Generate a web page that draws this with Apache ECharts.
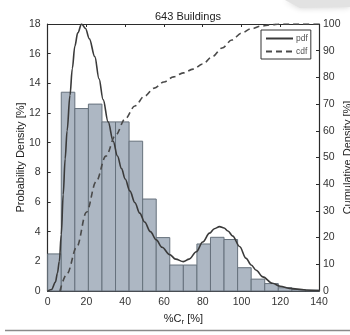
<!DOCTYPE html>
<html>
<head>
<meta charset="utf-8">
<script src="https://cdn.jsdelivr.net/npm/echarts@6/dist/echarts.min.js"></script>
<style>html,body{margin:0;padding:0;background:#fff;}#c{width:350px;height:335px;}</style>
</head>
<body>
<div id="c"></div>
<script>
// Histogram bins (bin width 7 %)
const binStarts = [0, 7, 14, 21, 28, 35, 42, 49, 56, 63, 70, 77, 84, 91, 98, 105, 112, 119, 126, 133];
const binWidth = 7;
const binHeights = [2.5, 13.4, 12.3, 12.6, 11.4, 11.4, 10.1, 6.2, 3.6, 1.75, 1.75, 3.17, 3.62, 3.47, 1.57, 0.8, 0.5, 0.22, 0.1, 0.05];

// Fitted pdf curve (x, density %)
const pdfX = [0, 2, 4, 5, 6, 7, 8, 9, 10, 11.5, 12.7, 14, 15.5, 17.5, 19.5, 21.5, 24.3, 26.5, 28.6, 31.2, 33.8, 36, 38.1, 40, 42.4, 45, 47.5, 50, 53, 56, 59, 63, 66, 70, 73, 76.7, 80, 83.5, 86, 88.7, 91, 93, 95.5, 99, 102.4, 105, 107.6, 111, 116, 120, 124.7, 133, 140];
const pdfY = [0, 0.1, 0.6, 1.2, 2.0, 3.8, 6.5, 8.9, 10.8, 13.2, 15.0, 16.5, 17.4, 18.0, 17.7, 17.0, 15.8, 14.3, 12.9, 11.4, 10.1, 9.1, 8.25, 7.55, 6.75, 5.95, 5.25, 4.65, 4.0, 3.45, 2.95, 2.45, 2.15, 1.98, 2.15, 2.65, 3.3, 3.9, 4.2, 4.34, 4.25, 4.05, 3.7, 3.0, 2.2, 1.75, 1.4, 0.95, 0.52, 0.32, 0.18, 0.07, 0.03];

// Cumulative curve (x, cumulative %)
const cdfX = [6.3, 10, 15, 20, 25, 30, 35, 40, 45, 50, 55, 60, 65, 70, 75, 80, 85, 90, 95, 100, 105, 110, 115, 120, 130, 140];
const cdfY = [0, 6.5, 16.5, 29.5, 41, 50.5, 58.3, 64.5, 69.3, 73, 76, 78.3, 80.2, 81.7, 83.1, 85, 87.8, 91, 94, 96.6, 98.2, 99.2, 99.7, 100, 100, 100];

const xTicks = {min: 0, max: 140, interval: 20};
const yLeft = {min: 0, max: 18, interval: 2};
const yRight = {min: 0, max: 100, interval: 10};

const chart = echarts.init(document.getElementById('c'), null, {renderer: 'canvas'});
const axisCol = '#2b2b2b';
const labelCol = '#333';
const font = 'Liberation Sans, Arial, sans-serif';

const barData = binStarts.map((s, i) => [s, s + binWidth, binHeights[i]]);
const pdfData = pdfX.map((x, i) => [x, pdfY[i]]);
const cdfData = cdfX.map((x, i) => [x, cdfY[i]]);

chart.setOption({
  animation: false,
  backgroundColor: '#fff',
  title: {
    text: '643 Buildings',
    left: 183, top: 6, textAlign: 'center',
    textStyle: {fontSize: 11, fontWeight: 'normal', color: '#222', fontFamily: font}
  },
  legend: {
    left: 261, top: 30,
    orient: 'vertical',
    data: ['pdf', 'cdf'],
    itemWidth: 27, itemHeight: 8, itemGap: 4,
    padding: [4, 3, 3, 4],
    borderColor: '#333', borderWidth: 1,
    backgroundColor: '#fff',
    itemStyle: {opacity: 0},
    textStyle: {fontSize: 8.5, color: '#555', fontFamily: font, padding: [0, 0, 0, -2]}
  },
  grid: {left: 47.7, right: 31, top: 24, bottom: 44, containLabel: false, outerBoundsMode: 'none'},
  xAxis: [{
    type: 'value', position: 'bottom', min: xTicks.min, max: xTicks.max, interval: xTicks.interval,
    axisLine: {show: true, onZero: false, lineStyle: {color: axisCol, width: 1.2}},
    axisTick: {show: true, inside: true, length: 3, lineStyle: {color: axisCol}},
    axisLabel: {fontSize: 10.5, color: labelCol, margin: 6, fontFamily: font},
    splitLine: {show: false},
    name: '%C{s|r} [%]', nameLocation: 'middle', nameGap: 21, nameMoveOverlap: false,
    nameTextStyle: {fontSize: 11, color: '#222', fontFamily: font,
      rich: {s: {fontSize: 8, verticalAlign: 'bottom', padding: [6, 0, 0, 0], color: '#222', fontFamily: font}}}
  }, {
    type: 'value', position: 'top', min: xTicks.min, max: xTicks.max, interval: xTicks.interval,
    axisLine: {show: true, onZero: false, lineStyle: {color: axisCol, width: 1.2}},
    axisTick: {show: true, inside: true, length: 3, lineStyle: {color: axisCol}},
    axisLabel: {show: false}, splitLine: {show: false}
  }],
  yAxis: [{
    type: 'value', position: 'left', min: yLeft.min, max: yLeft.max, interval: yLeft.interval,
    axisLine: {show: true, onZero: false, lineStyle: {color: axisCol, width: 1.2}},
    axisTick: {show: true, inside: true, length: 3, lineStyle: {color: axisCol}},
    axisLabel: {fontSize: 10.5, color: labelCol, margin: 7, fontFamily: font},
    splitLine: {show: false},
    name: 'Probability Density [%]', nameLocation: 'middle', nameGap: 21, nameRotate: 90, nameMoveOverlap: false,
    nameTextStyle: {fontSize: 11, color: '#222', fontFamily: font}
  }, {
    type: 'value', position: 'right', min: yRight.min, max: yRight.max, interval: yRight.interval,
    axisLine: {show: true, onZero: false, lineStyle: {color: axisCol, width: 1.2}},
    axisTick: {show: true, inside: true, length: 3, lineStyle: {color: axisCol}},
    axisLabel: {fontSize: 10.5, color: labelCol, margin: 4, fontFamily: font},
    splitLine: {show: false},
    name: 'Cumulative Density [%]', nameLocation: 'middle', nameGap: 23, nameRotate: 90, nameMoveOverlap: false,
    nameTextStyle: {fontSize: 11, color: '#222', fontFamily: font}
  }],
  series: [{
    type: 'custom',
    xAxisIndex: 0, yAxisIndex: 0,
    data: barData,
    encode: {x: [0, 1], y: 2},
    renderItem: function (params, api) {
      const p0 = api.coord([api.value(0), api.value(2)]);
      const p1 = api.coord([api.value(1), 0]);
      return {
        type: 'rect',
        shape: {x: p0[0], y: p0[1], width: p1[0] - p0[0], height: p1[1] - p0[1]},
        style: {fill: '#adb7c3', stroke: '#66717c', lineWidth: 1}
      };
    },
    z: 1
  }, {
    name: 'pdf', type: 'line', xAxisIndex: 0, yAxisIndex: 0,
    data: pdfData, smooth: 0.35, smoothMonotone: 'x', showSymbol: false, symbol: 'none',
    lineStyle: {color: '#3a3a3a', width: 1.6}, itemStyle: {color: '#3a3a3a'}, z: 3
  }, {
    name: 'cdf', type: 'line', xAxisIndex: 0, yAxisIndex: 1,
    data: cdfData, smooth: 0.35, smoothMonotone: 'x', showSymbol: false, symbol: 'none',
    lineStyle: {color: '#4a4a4a', width: 1.6, type: [6, 4]}, itemStyle: {color: '#4a4a4a'}, z: 3
  }],
  graphic: [{
    type: 'line', shape: {x1: 5, y1: 330.5, x2: 350, y2: 330.5},
    style: {stroke: '#8a8a8a', lineWidth: 1.5}, silent: true
  }, {
    type: 'polygon', shape: {points: [[285, 0], [350, 0], [350, 7], [300, 8]]},
    style: {fill: '#e2e2e2', shadowBlur: 6, shadowColor: '#d0d0d0'}, silent: true
  }]
});
</script>
</body>
</html>
